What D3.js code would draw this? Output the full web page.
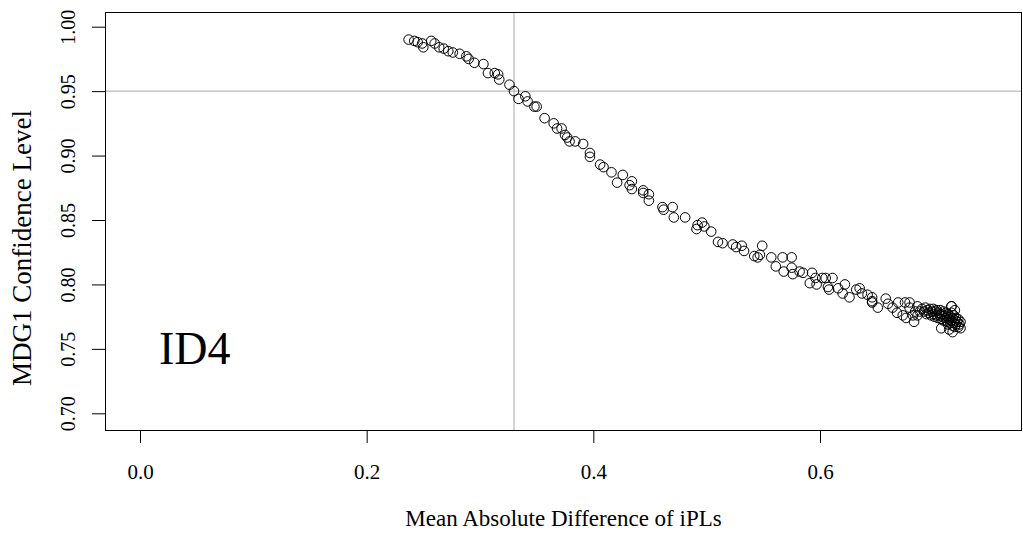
<!DOCTYPE html>
<html><head><meta charset="utf-8">
<script src="https://cdn.jsdelivr.net/npm/d3@7"></script>
<style>body{margin:0;background:#fff}svg{display:block}</style>
</head><body>
<svg id="c" width="1023" height="533" font-family="Liberation Serif"></svg>
<script>
const xTicks = [0.0, 0.2, 0.4, 0.6];
const yTicks = [0.70, 0.75, 0.80, 0.85, 0.90, 0.95, 1.00];
const xTitle = "Mean Absolute Difference of iPLs";
const yTitle = "MDG1 Confidence Level";
const panelLabel = "ID4";
const refX = 0.33;
const refY = 0.95;
const xs = [0.237,0.242,0.245,0.249,0.250,0.257,0.260,0.264,0.268,0.272,0.276,0.282,0.288,0.290,0.295,0.303,0.307,0.313,0.316,0.317,
0.326,0.330,0.334,0.340,0.342,0.348,0.350,0.357,0.365,0.368,0.372,0.375,0.377,0.379,0.384,0.391,0.397,0.397,0.406,0.409,
0.416,0.421,0.426,0.432,0.434,0.434,0.444,0.444,0.449,0.449,0.461,0.462,0.470,0.471,0.481,0.492,0.491,0.496,0.498,0.504,
0.510,0.514,0.523,0.526,0.531,0.533,0.542,0.545,0.547,0.549,0.557,0.561,0.567,0.575,0.568,0.575,0.576,0.582,0.585,0.593,
0.591,0.596,0.597,0.602,0.605,0.611,0.607,0.608,0.616,0.622,0.620,0.626,0.632,0.635,0.637,0.642,0.646,0.646,0.651,0.646,
0.658,0.660,0.664,0.669,0.675,0.679,0.668,0.673,0.676,0.682,0.683,0.679,0.716,0.707,0.717,
0.690,0.692,0.693,0.694,0.695,0.696,0.697,0.698,0.699,0.700,0.700,0.701,0.702,0.703,0.703,0.704,0.705,0.706,0.706,0.707,
0.707,0.708,0.709,0.709,0.710,0.711,0.711,0.712,0.712,0.713,0.713,0.714,0.715,0.715,0.716,0.716,0.717,0.717,0.718,0.718,
0.719,0.719,0.720,0.720,0.721,0.722,0.722,0.723,0.724,0.724,0.716,0.719,0.688,0.686,0.714,0.684,0.686];
const ys = [0.990,0.989,0.988,0.987,0.984,0.989,0.987,0.984,0.983,0.981,0.980,0.979,0.977,0.975,0.972,0.971,0.964,0.964,0.963,0.959,
0.955,0.950,0.944,0.946,0.942,0.938,0.938,0.929,0.925,0.921,0.921,0.916,0.914,0.911,0.911,0.909,0.902,0.899,0.893,0.891,
0.887,0.879,0.885,0.877,0.880,0.874,0.873,0.871,0.870,0.865,0.860,0.858,0.860,0.852,0.852,0.846,0.843,0.848,0.845,0.841,
0.833,0.832,0.831,0.829,0.830,0.826,0.822,0.821,0.823,0.830,0.821,0.814,0.821,0.821,0.810,0.813,0.808,0.810,0.809,0.809,
0.801,0.805,0.800,0.805,0.805,0.805,0.798,0.796,0.797,0.800,0.793,0.790,0.796,0.797,0.793,0.792,0.790,0.786,0.782,0.787,
0.789,0.785,0.782,0.786,0.786,0.786,0.778,0.776,0.774,0.776,0.771,0.782,0.783,0.766,0.763,
0.781,0.779,0.782,0.777,0.780,0.778,0.781,0.776,0.779,0.777,0.781,0.775,0.779,0.776,0.780,0.774,0.778,0.776,0.780,0.773,
0.777,0.775,0.779,0.772,0.776,0.774,0.778,0.771,0.775,0.777,0.769,0.773,0.775,0.770,0.778,0.772,0.768,0.774,0.770,0.776,
0.772,0.767,0.774,0.769,0.771,0.767,0.773,0.769,0.771,0.766,0.783,0.780,0.779,0.776,0.765,0.779,0.783];

const FONT = "Liberation Serif";
const svg = d3.select("#c");
const box = {l:105, r:1022, t:12, b:430};
const x = d3.scaleLinear().domain([0, 0.6]).range([140, 820]);
const y = d3.scaleLinear().domain([0.70, 1.00]).range([413.3, 26.7]);

// reference lines
svg.append("line").attr("x1", x(refX)).attr("x2", x(refX)).attr("y1", box.t).attr("y2", box.b)
  .attr("stroke", "#a8a8a8").attr("stroke-width", 1);
svg.append("line").attr("x1", box.l).attr("x2", box.r).attr("y1", y(refY)).attr("y2", y(refY))
  .attr("stroke", "#a8a8a8").attr("stroke-width", 1);

// points
svg.append("g").selectAll("circle").data(xs.map((v,i)=>[v, ys[i]])).join("circle")
  .attr("cx", d=>x(d[0])).attr("cy", d=>y(d[1])).attr("r", 4.8)
  .attr("fill", "none").attr("stroke", "#000").attr("stroke-width", 1);

// box
svg.append("rect").attr("x", box.l+0.5).attr("y", box.t+0.5).attr("width", box.r-box.l-1).attr("height", box.b-box.t)
  .attr("fill", "none").attr("stroke", "#000").attr("stroke-width", 1);

// x axis
const gx = svg.append("g").attr("transform", `translate(0,${box.b})`)
  .call(d3.axisBottom(x).tickValues(xTicks).tickSize(13).tickPadding(21).tickFormat(d3.format(".1f")));
gx.attr("font-family", FONT).attr("font-size", 21);
gx.select(".domain").remove();
gx.selectAll("text").attr("fill", "#000");
gx.selectAll("line").attr("stroke", "#000");

// y axis
const gy = svg.append("g").attr("transform", `translate(${box.l},0)`)
  .call(d3.axisLeft(y).tickValues(yTicks).tickSize(13).tickFormat(d3.format(".2f")));
gy.attr("font-family", FONT).attr("font-size", 20);
gy.select(".domain").remove();
gy.selectAll("line").attr("stroke", "#000");
gy.selectAll(".tick text").attr("fill", "#000")
  .attr("x", null).attr("dy", null).attr("text-anchor", "middle")
  .attr("transform", "translate(-30,0) rotate(-90)");

// titles
svg.append("text").attr("x", (box.l+box.r)/2).attr("y", 526).attr("text-anchor", "middle")
  .attr("font-family", FONT).attr("font-size", 23).text(xTitle);
svg.append("text").attr("transform", "translate(31,248) rotate(-90)").attr("text-anchor", "middle")
  .attr("font-family", FONT).attr("font-size", 27).text(yTitle);
svg.append("text").attr("x", 159).attr("y", 364).attr("font-family", FONT).attr("font-size", 46).text(panelLabel);
</script>
</body></html>
